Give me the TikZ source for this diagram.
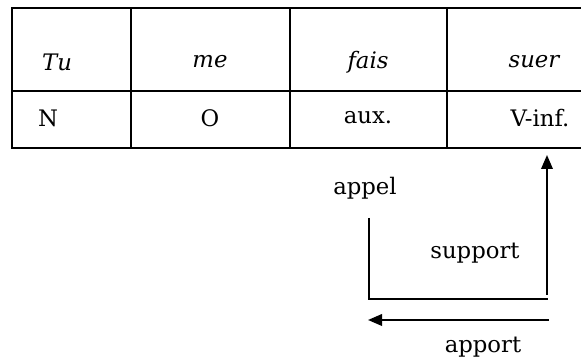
\documentclass[tikz,border=0pt]{standalone}
\usepackage{fontspec}
\setmainfont{DejaVu Serif}
\usetikzlibrary{positioning, arrows.meta, calc}

\begin{document}
\begin{tikzpicture}[
  x=0.4pt, y=-0.4pt,
  every node/.style={font=\fontsize{9.1}{11}\selectfont},
  cell/.style={draw, rectangle, line width=0.65pt, outer sep=0pt, inner sep=0pt},
  toprow/.style={cell, minimum height=33.2pt},
  botrow/.style={cell, minimum height=22.8pt},
  word/.style={inner sep=1pt},
  line/.style={line width=0.8pt},
  arr/.style={line, -{Triangle[length=5.6pt, width=4.6pt]}}
]
  \useasboundingbox (0,0) rectangle (581,364);

  % table cells
  \node[toprow, minimum width=47.6pt, anchor=north west] (c11) at (12,8) {};
  \node[toprow, minimum width=63.6pt, right=0pt of c11] (c12) {};
  \node[toprow, minimum width=62.8pt, right=0pt of c12] (c13) {};
  \node[toprow, minimum width=69.2pt, right=0pt of c13] (c14) {};
  \node[botrow, minimum width=47.6pt, below=0pt of c11] (c21) {};
  \node[botrow, minimum width=63.6pt, below=0pt of c12] (c22) {};
  \node[botrow, minimum width=62.8pt, below=0pt of c13] (c23) {};
  \node[botrow, minimum width=69.2pt, below=0pt of c14] (c24) {};

  % words
  \node[word] (tu) at (57,62) {\itshape Tu};
  \node[word] (me) at (210,62) {\itshape me};
  \node[word] (fais) at (368,62) {\itshape fais};
  \node[word] (suer) at (534,62) {\itshape suer};
  \node[word] (n) at (48,118) {N};
  \node[word] (o) at (210,118) {O};
  \node[word] (aux) at (368,118) {aux.};
  \node[word] (vinf) at (540,118) {V-inf.};

  % labels
  \node[word] (appel) at (365,188) {appel};
  \node[word] (support) at (475,253) {support};
  \node[word] (apport) at (483,347) {apport};

  \coordinate (appelTop) at (369,218);
  \coordinate (appelEnd) at (548,299);
  \coordinate (supBase) at (547,295);
  \coordinate (apStart) at (549,320);
  \coordinate (apEnd) at (368,320);

  \draw[line] (appelTop) |- (appelEnd);
  \draw[arr, shorten >=2.8pt] (supBase) -- (supBase |- c24.south);
  \draw[arr] (apStart) -- (apEnd);
\end{tikzpicture}
\end{document}
